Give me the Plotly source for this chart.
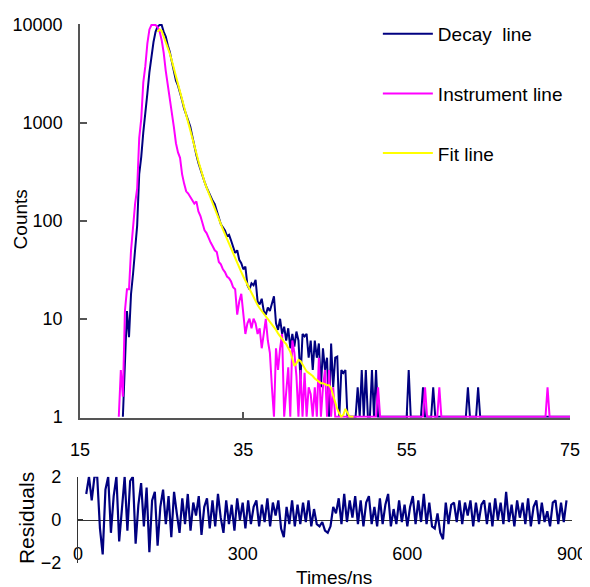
import plotly.graph_objects as go

# ---------------- data ----------------
TIME_START = 19.0   # ns, first channel shown
TIME_STEP = 0.25    # ns per channel
N = None

decay_counts = [
    N, N, N, N,                 # 19
    N, 1, 4.5, 12,              # 20
    6.5, 18, 29, 47,            # 21
    90, 300, 450, 800,          # 22
    1200, 2000, 3300, 5000,     # 23
    6700, 8500, 9600, 10000,    # 24
    10000, 8500, 7600, 6200,    # 25
    5300, 4200, 3300, 2700,     # 26
    2400, 2050, 1700, 1400,     # 27
    1200, 1050, 920, 730,       # 28
    560, 470, 390, 330,         # 29
    290, 250, 220, 195,         # 30
    175, 160, 148, 125,         # 31
    108, 92, 86, 80,            # 32
    70, 72, 63, 55,             # 33
    47, 50, 40, 37,             # 34
    32, 34, 22, 20,             # 35
    23, 22, 25, 15,             # 36
    14, 16, 12, 11,             # 37
    13, 12, 14, 17,             # 38
    9, 7.7, 10, 7,              # 39
    8.3, 6, 8, 5,               # 40
    7, 5.2, 7.4, 6,             # 41
    2.4, 7, 6.6, 7,             # 42
    4, 6, 3, 6,                 # 43
    4, 5.6, 2, 5,               # 44
    3, 4, 1, 5.6,               # 45
    2, 4, 4.1, 1,               # 46
    3, 2.8, 3, 1,               # 47
    1, 1, 1, 1,                 # 48
    2, 1, 3, 1,                 # 49
    3, 1, 1, 3,                 # 50
    1, 3, 1, 1,                 # 51
    1, 1, 1, 1,                 # 52
    1, 1, 1, 1,                 # 53
    1, 1, 1, 1,                 # 54
    1, 3, 1, 1,                 # 55
    1, 1, 1, 1,                 # 56
    2, 1, 1, 1,                 # 57
    1, 2, 1, 1,                 # 58
    1, 1, 1, 1,                 # 59
    1, 1, 1, 1,                 # 60
    1, 1, 1, 1,                 # 61
    1, 1, 2, 1,                 # 62
    1, 1, 1, 2,                 # 63
    1, 1, 1, 1,                 # 64
    1, 1, 1, 1,                 # 65
    1, 1, 1, 1,                 # 66
    1, 1, 1, 1,                 # 67
    1, 1, 1, 1,                 # 68
    1, 1, 1, 1,                 # 69
    1, 1, 1, 1,                 # 70
    1, 1, 1, 1,                 # 71
    1, 1, 1, 1,                 # 72
    1, 1, 1, 1,                 # 73
    1, 1, 1, 1,                 # 74
    1,                          # 75
]

instrument_counts = [
    N, N, N, 1,                 # 19
    3, 1.6, 12, 20,             # 20
    20, 50, 95, 150,            # 21
    215, 700, 1100, 2600,       # 22
    3800, 6500, 9000, 10000,    # 23
    10000, 10000, 9500, 8600,   # 24
    7000, 5200, 3400, 2500,     # 25
    1800, 1300, 900, 620,       # 26
    500, 440, 300, 240,         # 27
    200, 190, 175, 160,         # 28
    150, 158, 125, 112,         # 29
    95, 80, 75, 66,             # 30
    60, 55, 50, 48,             # 31
    38, 36, 32, 30,             # 32
    27, 26, 24, 21,             # 33
    20, 11, 15, 18,             # 34
    12, 7, 9, 10,               # 35
    8, 10, 9, 7,                # 36
    8, 5, 7, 10,                # 37
    6, 4.5, 2, 1,               # 38
    5, 3, 5, 7,                 # 39
    1, 2, 3.2, 1,               # 40
    6, 4.5, 2.6, 1,             # 41
    3, 1, 2.8, 1,               # 42
    2, 1.7, 1, 2,               # 43
    1, 4, 1, 2,                 # 44
    3, 1, 3, 1,                 # 45
    2, 1, 1, 1,                 # 46
    1, 1, 1, 1,                 # 47
    1, 1, 1, 1,                 # 48
    1, 1, 1, 1,                 # 49
    1, 1, 1, 1,                 # 50
    1, 1, 2, 1,                 # 51
    1, 1, 1, 1,                 # 52
    1, 1, 1, 1,                 # 53
    1, 1, 1, 1,                 # 54
    1, 1, 1, 1,                 # 55
    1, 1, 1, 1,                 # 56
    1, 2, 1, 1,                 # 57
    1, 1, 1, 1,                 # 58
    2, 1, 1, 1,                 # 59
    1, 1, 1, 1,                 # 60
    1, 1, 1, 1,                 # 61
    1, 1, 1, 1,                 # 62
    1, 1, 1, 1,                 # 63
    1, 1, 1, 1,                 # 64
    1, 1, 1, 1,                 # 65
    1, 1, 1, 1,                 # 66
    1, 1, 1, 1,                 # 67
    1, 1, 1, 1,                 # 68
    1, 1, 1, 1,                 # 69
    1, 1, 1, 1,                 # 70
    1, 1, 1, 1,                 # 71
    1, 2, 1, 1,                 # 72
    1, 1, 1, 1,                 # 73
    1, 1, 1, 1,                 # 74
    1,                          # 75
]

fit_counts = [
    N, N, N, N,                 # 19
    N, N, N, N,                 # 20
    N, N, N, N,                 # 21
    N, N, N, N,                 # 22
    N, N, N, N,                 # 23
    N, N, 8500, 9000,           # 24
    8700, 7700, 6800, 5900,     # 25
    5100, 4300, 3600, 3000,     # 26
    2450, 2050, 1720, 1450,     # 27
    1230, 1040, 880, 730,       # 28
    600, 490, 405, 340,         # 29
    290, 250, 218, 192,         # 30
    170, 150, 133, 118,         # 31
    104, 92, 82, 73,            # 32
    65, 58, 52, 46,             # 33
    41, 37, 33, 30,             # 34
    27, 24.5, 22, 20,           # 35
    18, 16.5, 15, 13.8,         # 36
    12.8, 12, 11.3, 10.6,       # 37
    10, 9.4, 8.9, 8.3,          # 38
    7.7, 7.1, 6.6, 6.2,         # 39
    5.8, 5.5, 5.1, 4.6,         # 40
    3.9, 3.3, 3.5, 3.8,         # 41
    3.7, 3.4, 3.1, 2.9,         # 42
    2.8, 2.7, 2.6, 2.45,        # 43
    2.35, 2.25, 2.2, 2.2,       # 44
    2.15, 2.1, 2.1, 1.95,       # 45
    1.65, 1.4, 1.2, 1.08,       # 46
    1.0, 1.05, 1.2, 1.1,        # 47
    1.0, 1.0, 1.0, N,           # 48
] + [N] * (4 * 26 + 1)          # 49 .. 75: no fit drawn

CHANNEL_START = 15
CHANNEL_STEP = 5
residuals = [
    1.2, 2.0, 0.9, 2.0, 2.0, -0.4, -1.6, 1.4, 2.0, -0.6,
    1.1, 2.0, -1.0, 0.4, 2.0, -0.5, 1.8, 2.0, -1.1, 0.7,
    1.7, -0.3, 1.5, -1.5, 0.9, 1.3, -1.2, 0.6, 1.4, -0.2,
    1.1, -0.8, 1.3, 0.3, -0.6, 1.0, -0.2, 1.2, -0.5, 0.8,
    0.2, 1.1, -0.7, 0.6, 1.0, -0.4, 0.9, -0.3, 1.2, 0.1,
    -0.6, 0.9, -0.2, 0.7, -0.5, 1.0, 0.0, 0.8, -0.4, 0.9,
    -0.2, 0.6, 0.9, -0.3, 0.7, -0.1, 1.0, -0.3, 0.8, 0.2,
    0.9, -0.4, -0.8, 0.6, -0.2, 0.9, -0.3, 0.7, -0.2, 0.8,
    -0.1, 0.9, -0.3, 0.5, -0.2, -0.3, -0.1, -0.5, -0.6, -0.3,
    0.6, 0.3, 1.0, -0.2, 1.2, -0.1, 0.9, 0.1, 1.1, -0.2,
    0.9, -0.3, 0.8, 1.1, -0.2, 0.6, -0.3, 1.0, -0.2, 0.7,
    1.2, -0.3, 0.5, -0.2, 0.9, -0.1, 0.7, -0.3, 0.6, 1.1,
    -0.2, 0.9, -0.1, 1.2, -0.2, 0.8, -0.3, -0.4, 0.3, -0.6,
    -0.9, 0.8, -0.2, 0.7, 0.8, -0.1, 0.9, -0.2, 0.8, 0.2,
    0.9, -0.3, 0.8, -0.1, 0.7, 0.9, -0.2, 0.8, -0.3, 1.0,
    0.0, 0.8, -0.2, 1.3, -0.1, 0.7, -0.3, 0.9, 0.1, 0.8,
    -0.2, 1.0, -0.3, 0.6, 0.9, -0.2, 0.8, -0.1, 0.4, -0.3,
    0.8, 0.9, -0.2, 0.8, -0.1, 0.9,
]

count_ticks = [1, 10, 100, 1000, 10000]
time_ticks = [15, 35, 55, 75]
channel_ticks = [0, 300, 600, 900]
residual_ticks = [-2, 0, 2]

assert len(decay_counts) == len(instrument_counts) == len(fit_counts)

times = [TIME_START + TIME_STEP * i for i in range(len(decay_counts))]
channels = [CHANNEL_START + CHANNEL_STEP * i for i in range(len(residuals))]

# ---------------- figure ----------------
NAVY = "#000080"
MAGENTA = "#FF00FF"
YELLOW = "#FFFF00"
AXIS = "#555555"
FONT = "Liberation Sans, Arial, sans-serif"

fig = go.Figure()
fig.add_trace(go.Scatter(x=times, y=decay_counts, mode="lines", name="Decay  line",
                         line=dict(color=NAVY, width=2), legendgroup="a",
                         xaxis="x", yaxis="y"))
fig.add_trace(go.Scatter(x=times, y=instrument_counts, mode="lines", name="Instrument line",
                         line=dict(color=MAGENTA, width=2), legendgroup="b",
                         xaxis="x", yaxis="y"))
fig.add_trace(go.Scatter(x=times, y=fit_counts, mode="lines", name="Fit line",
                         line=dict(color=YELLOW, width=2), legendgroup="c",
                         xaxis="x", yaxis="y"))
fig.add_trace(go.Scatter(x=channels, y=residuals, mode="lines", name="Residuals",
                         line=dict(color=NAVY, width=2.2), showlegend=False,
                         xaxis="x2", yaxis="y2"))

# the page body adds an 8 px offset, so margins are set 8 px smaller on top/left
fig.update_layout(
    width=590, height=587,
    margin=dict(l=70, r=26, t=16, b=32, autoexpand=False),
    paper_bgcolor="white", plot_bgcolor="white",
    font=dict(family=FONT, size=18, color="black"),
    xaxis=dict(domain=[0.00405, 0.99595], range=[15, 75], tickvals=time_ticks,
               showline=True, linecolor=AXIS, linewidth=1.5,
               ticks="inside", ticklen=6, tickcolor=AXIS, tickwidth=1.5,
               showgrid=False, zeroline=False, anchor="y", layer="below traces",
               ticklabelstandoff=15, automargin=False),
    yaxis=dict(domain=[0.2696, 1.0], type="log", range=[-0.01, 4.01],
               tickvals=count_ticks, ticktext=[str(v) for v in count_ticks],
               showline=True, linecolor=AXIS, linewidth=1.5,
               ticks="inside", ticklen=7, tickcolor=AXIS, tickwidth=1.5,
               showgrid=False, zeroline=False, anchor="x", ticklabelstandoff=12,
               automargin=False),
    xaxis2=dict(domain=[0.0, 1.0], range=[0, 900], tickvals=channel_ticks,
                showline=True, linecolor="#333333", linewidth=1.2, ticks="",
                showgrid=False, zeroline=False, anchor="free", position=0.08005,
                layer="below traces", ticklabelstandoff=17, automargin=False),
    yaxis2=dict(domain=[0.0, 0.1601], range=[-2, 2], tickvals=residual_ticks,
                showline=True, linecolor="#333333", linewidth=1.2,
                ticks="inside", ticklen=5, tickcolor="#333333",
                showgrid=False, zeroline=False, anchor="x2", ticklabelstandoff=12,
                automargin=False),
    legend=dict(x=0.607, y=1.017, xanchor="left", yanchor="top",
                bgcolor="rgba(0,0,0,0)", font=dict(size=19, color="black"),
                traceorder="grouped", tracegroupgap=32, itemwidth=50),
    annotations=[
        dict(text="Counts", x=-0.1174, y=0.6375, xref="paper", yref="paper",
             xanchor="center", yanchor="middle",
             showarrow=False, textangle=-90, font=dict(size=19)),
        dict(text="Residuals", x=-0.103, y=0.0836, xref="paper", yref="paper",
             xanchor="center", yanchor="middle",
             showarrow=False, textangle=-90, font=dict(size=21)),
        dict(text="Times/ns", x=0.518, y=-0.0278, xref="paper", yref="paper",
             xanchor="center", yanchor="middle",
             showarrow=False, font=dict(size=19)),
    ],
)

fig.write_html("out.html")
